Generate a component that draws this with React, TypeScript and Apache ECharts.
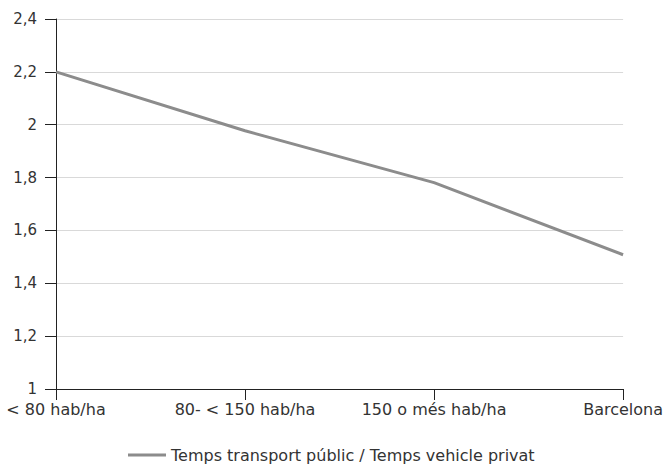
import React, { useEffect, useRef } from "react";
import * as echarts from "echarts";

const categories = ["< 80 hab/ha", "80- < 150 hab/ha", "150 o més hab/ha", "Barcelona"];
const seriesName = "Temps transport públic / Temps vehicle privat";
const values = [2.2, 1.977, 1.781, 1.508];

const FONT = "'DejaVu Sans', sans-serif";

export default function App() {
  const ref = useRef<HTMLDivElement>(null);
  useEffect(() => {
    if (!ref.current) return;
    const chart = echarts.init(ref.current, undefined, { renderer: "svg" });
    chart.setOption({
      animation: false,
      textStyle: { fontFamily: FONT },
      grid: { left: 56, right: 42, top: 19, bottom: 80 },
      legend: {
        bottom: 1,
        left: 123,
        itemWidth: 38,
        itemHeight: 3,
        itemGap: 10,
        icon: "rect",
        textStyle: { fontSize: 16, color: "#333", fontFamily: FONT },
        data: [seriesName],
      },
      xAxis: {
        type: "category",
        data: categories,
        boundaryGap: false,
        axisLine: { lineStyle: { color: "#222", width: 1 } },
        axisTick: { alignWithLabel: true, length: 11, lineStyle: { color: "#222" } },
        axisLabel: { fontSize: 16, color: "#333", margin: 12, fontFamily: FONT },
        splitLine: { show: false },
      },
      yAxis: {
        type: "value",
        min: 1,
        max: 2.4,
        interval: 0.2,
        axisLine: { show: true, lineStyle: { color: "#222", width: 1 } },
        axisTick: { show: true, length: 11, lineStyle: { color: "#222" } },
        axisLabel: {
          fontSize: 15,
          color: "#333",
          margin: 19,
          fontFamily: FONT,
          formatter: (v: number) => String(Math.round(v * 10) / 10).replace(".", ","),
        },
        splitLine: { lineStyle: { color: "#d9d9d9", width: 1 } },
      },
      series: [
        {
          name: seriesName,
          type: "line",
          data: values,
          symbol: "none",
          lineStyle: { color: "#8c8c8c", width: 3 },
          itemStyle: { color: "#8c8c8c" },
        },
      ],
    });
    return () => chart.dispose();
  }, []);
  return (
    <div
      ref={ref}
      style={{ position: "absolute", left: 0, top: 0, width: 666, height: 469 }}
    />
  );
}
